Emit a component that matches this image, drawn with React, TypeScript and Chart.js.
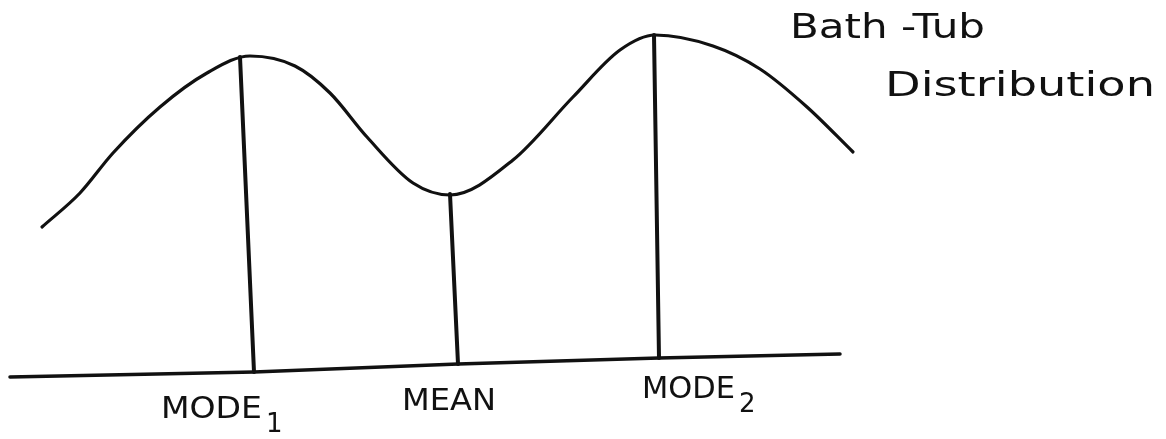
import { useEffect, useRef } from "react";
import { Chart, registerables } from "chart.js";

Chart.register(...registerables);

// ---- data (in picture units) ----
const curveX = [42, 80, 113, 160, 207, 250, 295, 330, 367, 413, 450, 513, 573, 620, 655, 713, 760, 807, 853];
const curveY = [227, 193, 153, 107, 73, 56, 66, 93, 137, 183, 195, 160, 97, 50, 35, 46, 69, 107, 152];
const baselineX = [10, 254, 458, 659, 840];
const baselineY = [377, 372, 364, 358, 354];
const markerNames = ["MODE", "MEAN", "MODE"];
const markerSubs = ["1", "", "2"];
const markerTopX = [240, 450, 654];
const markerTopY = [57, 194, 35];
const markerBottomX = [254, 458, 659];
const markerBottomY = [372, 364, 358];
const titleLines = ["Bath -Tub", "Distribution"];

// ---- styles / layout ----
const W = 1166;
const H = 439;
const INK = "#111111";
const FONT = "'DejaVu Sans', sans-serif";
const labelStyle = {
  size: 30,
  subSize: 26,
  offsets: [[-93, 46], [-56, 46], [-17, 40]],
  widths: [101, 94, 93],
  subDy: 14,
  subGap: 4,
};
const titleStyle = {
  size: 34,
  pos: [[790, 38], [885, 96]],
  widths: [195, 270],
};

function drawStretched(ctx: CanvasRenderingContext2D, text: string, x: number, y: number, width: number) {
  const m = ctx.measureText(text).width;
  const s = m > 0 ? width / m : 1;
  ctx.save();
  ctx.translate(x, y);
  ctx.scale(s, 1);
  ctx.fillText(text, 0, 0);
  ctx.restore();
}

const textPlugin = {
  id: "sketchText",
  afterDatasetsDraw(chart: any) {
    const ctx: CanvasRenderingContext2D = chart.ctx;
    const xs = chart.scales.x;
    const ys = chart.scales.y;
    ctx.save();
    ctx.fillStyle = INK;
    ctx.textBaseline = "alphabetic";
    ctx.textAlign = "left";
    markerNames.forEach((name, i) => {
      const px = xs.getPixelForValue(markerBottomX[i]) + labelStyle.offsets[i][0];
      const py = ys.getPixelForValue(markerBottomY[i]) + labelStyle.offsets[i][1];
      ctx.font = `${labelStyle.size}px ${FONT}`;
      drawStretched(ctx, name, px, py, labelStyle.widths[i]);
      if (markerSubs[i]) {
        ctx.font = `${labelStyle.subSize}px ${FONT}`;
        ctx.fillText(markerSubs[i], px + labelStyle.widths[i] + labelStyle.subGap, py + labelStyle.subDy);
      }
    });
    ctx.font = `${titleStyle.size}px ${FONT}`;
    titleLines.forEach((t, i) => {
      drawStretched(ctx, t, titleStyle.pos[i][0], titleStyle.pos[i][1], titleStyle.widths[i]);
    });
    ctx.restore();
  },
};

export default function App() {
  const ref = useRef<HTMLCanvasElement | null>(null);

  useEffect(() => {
    document.body.style.margin = "0";
    const canvas = ref.current;
    if (!canvas) return;
    const pts = (xs: number[], ys: number[]) => xs.map((x, i) => ({ x, y: ys[i] }));
    const lineBase = {
      borderColor: INK,
      pointRadius: 0,
      fill: false,
      borderCapStyle: "round" as const,
      borderJoinStyle: "round" as const,
    };
    const datasets: any[] = [
      { ...lineBase, label: "curve", data: pts(curveX, curveY), borderWidth: 3.2, cubicInterpolationMode: "monotone" },
      { ...lineBase, label: "baseline", data: pts(baselineX, baselineY), borderWidth: 3.5, tension: 0 },
    ];
    markerNames.forEach((n, i) => {
      datasets.push({
        ...lineBase,
        label: n + markerSubs[i],
        data: [
          { x: markerTopX[i], y: markerTopY[i] },
          { x: markerBottomX[i], y: markerBottomY[i] },
        ],
        borderWidth: 4,
        tension: 0,
      });
    });
    const chart = new Chart(canvas, {
      type: "line",
      data: { datasets },
      options: {
        animation: false,
        responsive: false,
        devicePixelRatio: 1,
        layout: { padding: 0 },
        scales: {
          x: { type: "linear", min: 0, max: W, display: false },
          y: { type: "linear", min: 0, max: H, reverse: true, display: false },
        },
        plugins: { legend: { display: false }, tooltip: { enabled: false }, title: { display: false } },
      },
      plugins: [textPlugin],
    });
    return () => chart.destroy();
  }, []);

  return (
    <div style={{ width: W, height: H, background: "#ffffff" }}>
      <canvas ref={ref} width={W} height={H} style={{ display: "block" }} />
    </div>
  );
}
